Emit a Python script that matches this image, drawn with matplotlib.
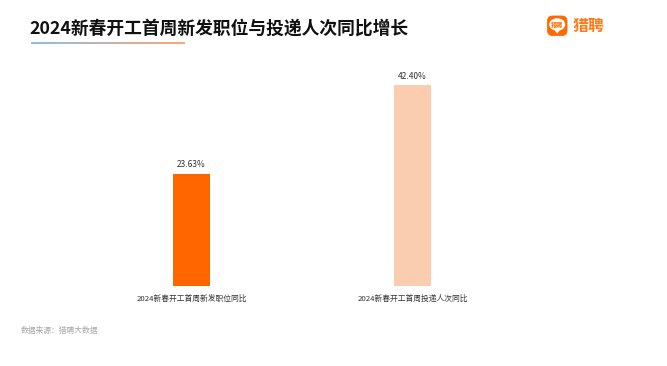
import numpy as np
import matplotlib
matplotlib.use('Agg')
import matplotlib.pyplot as plt
from matplotlib.patches import FancyBboxPatch, Ellipse, Polygon

plt.rcParams['font.family'] = ['Noto Sans CJK SC', 'DejaVu Sans']

categories = ['2024新春开工首周新发职位同比', '2024新春开工首周投递人次同比']
values = [23.63, 42.40]
bar_colors = ['#FF6600', '#FACDB0']
title = '2024新春开工首周新发职位与投递人次同比增长'
source = '数据来源：猎聘大数据'

W, H = 667, 366
fig = plt.figure(figsize=(W / 100, H / 100), dpi=100)

# axes placed in pixels, y scale 4.74 px per percent
ax = fig.add_axes([81 / W, (H - 286) / H, 442 / W, 213 / H])
x = np.arange(len(categories))
ax.bar(x, values, width=0.167, color=bar_colors)
ax.set_xlim(-0.5, 1.5)
ax.set_ylim(0, 45)
ax.set_yticks([])
ax.set_xticks(x)
ax.set_xticklabels(categories, fontsize=5.6, color='#333333')
ax.tick_params(axis='x', length=0, pad=6.3)
for s in ax.spines.values():
    s.set_visible(False)
for i, v in enumerate(values):
    ax.annotate('%.2f%%' % v, (i, v), xytext=(0, 3.4), textcoords='offset points',
                ha='center', va='bottom', fontsize=6, color='#333333')

# overlay in pixel coords for title, logo, source
ov = fig.add_axes([0, 0, 1, 1], zorder=5)
ov.patch.set_alpha(0)

grad = np.linspace(0, 1, 256)
c0 = np.array([0x8F, 0xBC, 0xE8]) / 255
c1 = np.array([0xFF, 0xA8, 0x70]) / 255
img = np.array([c0 + (c1 - c0) * t for t in grad])[None, :, :]
ov.imshow(img, extent=(31, 185, 44, 42.5), aspect='auto', zorder=2)
ov.set_xlim(0, W)
ov.set_ylim(H, 0)
ov.axis('off')

ov.text(29.5, 28.5, title, fontsize=12.8, fontweight='bold', color='#111111', va='center', ha='left')
ov.text(21, 331, source, fontsize=5.6, color='#A6A6A6', va='center', ha='left')

# logo
ov.add_patch(FancyBboxPatch((547.5, 16), 19.5, 19.5, boxstyle='round,pad=0,rounding_size=5',
                            fc='#FF6A00', ec='#FF6A00', lw=0.6))
ov.add_patch(Ellipse((557.2, 24.5), 16, 12.5, fc='white', ec='none'))
ov.add_patch(Polygon([[554, 29.5], [560.5, 29.5], [557.2, 33.5]], fc='white', ec='none'))
ov.text(557.2, 24.5, '猎聘', fontsize=4.4, color='#FF6A00', ha='center', va='center', fontweight='bold')
ov.text(573, 25.5, '猎聘', fontsize=11.4, color='#FF7A1A', ha='left', va='center', fontweight='bold')

fig.savefig('out.png', dpi=100)
